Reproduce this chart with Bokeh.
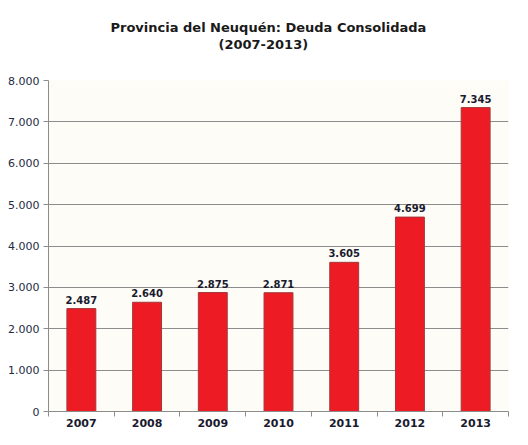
from bokeh.plotting import figure
from bokeh.models import ColumnDataSource, FixedTicker, Title, LabelSet, Range1d
from bokeh.core.properties import value
from bokeh.embed import file_html
from bokeh.resources import INLINE

years = ["2007", "2008", "2009", "2010", "2011", "2012", "2013"]
deuda = [2487, 2640, 2875, 2871, 3605, 4699, 7345]
deuda_labels = ["2.487", "2.640", "2.875", "2.871", "3.605", "4.699", "7.345"]
y_ticks = [0, 1000, 2000, 3000, 4000, 5000, 6000, 7000, 8000]
y_tick_labels = ["0", "1.000", "2.000", "3.000", "4.000", "5.000", "6.000", "7.000", "8.000"]
title_line1 = "Provincia del Neuquén:  Deuda Consolidada"
title_line2 = "(2007-2013)"

idx = list(range(len(years)))
src = ColumnDataSource(dict(x=idx, y=deuda, lab=deuda_labels))

p = figure(width=512, height=429, output_backend="svg", toolbar_location=None, title=None,
           x_range=Range1d(-0.5, len(years) - 0.5), y_range=Range1d(0, 8000),
           min_border_left=48, min_border_right=4, min_border_top=80, min_border_bottom=12)
p.background_fill_color = "#FDFCF7"
p.border_fill_color = "white"
p.outline_line_color = None

title_style = dict(text_font="DejaVu Sans", text_font_size="13px",
                   text_font_style="bold", text_color="#1A1A1A")
# invisible spacer between the title block and the plot area
p.add_layout(Title(text=" ", align="left", standoff=12, **title_style), "above")
p.add_layout(Title(text=title_line2, align="left", offset=170, standoff=0, **title_style), "above")
p.add_layout(Title(text=title_line1, align="left", offset=62, standoff=0, **title_style), "above")

p.vbar(x="x", top="y", width=0.44, source=src, fill_color="#ED1C24",
       line_color="#A3383A", line_width=1)

labels = LabelSet(x="x", y="y", text="lab", source=src, text_align="center",
                  y_offset=5, text_font=value("DejaVu Sans"), text_font_size="10px",
                  text_font_style="bold", text_color="#1A1A2E")
p.add_layout(labels)

# x axis: labels at bar centres, tick marks at category boundaries
xa = p.xaxis[0]
xa.ticker = FixedTicker(ticks=idx, minor_ticks=[i - 0.5 for i in range(len(years) + 1)])
xa.major_label_overrides = {i: years[i] for i in idx}
xa.major_tick_out = 0
xa.major_tick_in = 0
xa.minor_tick_out = 5
xa.minor_tick_in = 0
xa.minor_tick_line_color = "#8C8C8C"
xa.axis_line_color = "#8C8C8C"
xa.major_label_text_font = "DejaVu Sans"
xa.major_label_text_font_size = "11px"
xa.major_label_text_font_style = "bold"
xa.major_label_text_color = "#1A1A2E"
xa.major_label_standoff = 2

ya = p.yaxis[0]
ya.ticker = FixedTicker(ticks=y_ticks, minor_ticks=[])
ya.major_label_overrides = {v: s for v, s in zip(y_ticks, y_tick_labels)}
ya.major_tick_out = 5
ya.major_tick_in = 0
ya.major_tick_line_color = "#8C8C8C"
ya.axis_line_color = "#8C8C8C"
ya.major_label_text_font = "DejaVu Sans"
ya.major_label_text_font_size = "11px"
ya.major_label_text_color = "#1F2A44"
ya.major_label_standoff = 4

p.xgrid.grid_line_color = None
p.ygrid.grid_line_color = "#8C8C8C"
p.ygrid.grid_line_width = 1

open("out.html", "w").write(file_html(p, INLINE))
